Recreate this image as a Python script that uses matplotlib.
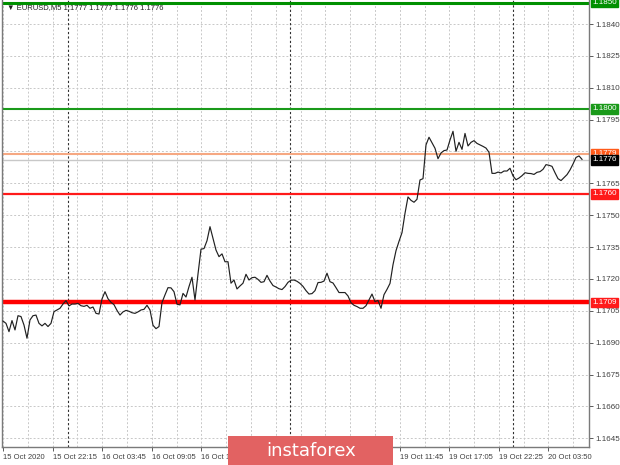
import matplotlib
matplotlib.use('Agg')
import matplotlib.pyplot as plt
import numpy as np
from matplotlib.transforms import blended_transform_factory

# ---- data (EURUSD M5 closes, sampled) ----
close_prices = [
    1.17002, 1.16991, 1.16952, 1.17004, 1.16960, 1.17027, 1.17023, 1.16983, 1.16921, 1.17007,
    1.17027, 1.17030, 1.16991, 1.16979, 1.16991, 1.16976, 1.16991, 1.17046, 1.17054, 1.17062,
    1.17082, 1.17098, 1.17073, 1.17082, 1.17082, 1.17085, 1.17074, 1.17071, 1.17076, 1.17062,
    1.17068, 1.17038, 1.17035, 1.17106, 1.17140, 1.17107, 1.17090, 1.17079, 1.17052, 1.17030,
    1.17045, 1.17052, 1.17048, 1.17041, 1.17038, 1.17045, 1.17054, 1.17057, 1.17076, 1.17054,
    1.16982, 1.16966, 1.16976, 1.17089, 1.17125, 1.17159, 1.17158, 1.17140, 1.17081, 1.17078,
    1.17132, 1.17115, 1.17164, 1.17208, 1.17101, 1.17223, 1.17340, 1.17343, 1.17380, 1.17446,
    1.17391, 1.17336, 1.17305, 1.17318, 1.17281, 1.17281, 1.17180, 1.17195, 1.17153, 1.17167,
    1.17180, 1.17222, 1.17195, 1.17206, 1.17208, 1.17198, 1.17184, 1.17187, 1.17217, 1.17190,
    1.17169, 1.17162, 1.17154, 1.17150, 1.17164, 1.17184, 1.17194, 1.17195, 1.17189,
    1.17179, 1.17165, 1.17145, 1.17129, 1.17131, 1.17145, 1.17183, 1.17184, 1.17190, 1.17227,
    1.17187, 1.17181, 1.17159, 1.17136, 1.17136, 1.17136, 1.17120, 1.17088, 1.17076, 1.17070,
    1.17062, 1.17062, 1.17074, 1.17101, 1.17129, 1.17093, 1.17099, 1.17062, 1.17126, 1.17151,
    1.17179, 1.17267, 1.17333, 1.17377, 1.17418, 1.17509, 1.17586, 1.17570, 1.17561, 1.17575,
    1.17666, 1.17672, 1.17831, 1.17867, 1.17841, 1.17815, 1.17766, 1.17793, 1.17804, 1.17807,
    1.17854, 1.17895, 1.17801, 1.17843, 1.17810, 1.17885, 1.17826, 1.17843, 1.17851, 1.17838,
    1.17831, 1.17824, 1.17816, 1.17796, 1.17697, 1.17697, 1.17703, 1.17699, 1.17708, 1.17708,
    1.17721, 1.17685, 1.17667, 1.17675, 1.17686, 1.17700, 1.17697, 1.17696, 1.17692, 1.17702,
    1.17705, 1.17716, 1.17738, 1.17735, 1.17730, 1.17700, 1.17672, 1.17663, 1.17677, 1.17691,
    1.17713, 1.17741, 1.17772, 1.17779, 1.17763,
]

# labels 6-8 are hidden behind the watermark in the reference
time_labels = ['15 Oct 2020', '15 Oct 22:15', '16 Oct 03:45', '16 Oct 09:05',
               '16 Oct 14:25', '', '', '',
               '19 Oct 11:45', '19 Oct 17:05', '19 Oct 22:25', '20 Oct 03:50']

price_ticks = [1.1645, 1.1660, 1.1675, 1.1690, 1.1705, 1.1720, 1.1735,
               1.1750, 1.1765, 1.1795, 1.1810, 1.1825, 1.1840]

level_prices = [1.1850, 1.1800, 1.1779, 1.1776, 1.1760, 1.1709]
level_labels = ['1.1850', '1.1800', '1.1779', '1.1776', '1.1760', '1.1709']

title_text = '\u25bc EURUSD,M5 1.1777 1.1777 1.1776 1.1776'

# ---- styles ----
level_colors = ['#009000', '#1a9a1a', '#f6a882', '#c8c8c8', '#ff1a1a', '#ff0000']
level_widths = [2.2, 1.5, 1.5, 1.0, 1.6, 3.2]
box_colors = ['#009000', '#1a9a1a', '#ff5a1a', '#000000', '#ff1a1a', '#ff1a1a']

plt.rcParams['font.family'] = ['Liberation Sans', 'DejaVu Sans']

fig = plt.figure(figsize=(6.2, 4.65), dpi=100)
ax = fig.add_axes([2 / 620, 18 / 465, 587 / 620, 447 / 465])

x = np.arange(len(close_prices))
label_step = 16.53           # index units between time labels
x_start = 0.0

ax.set_xlim(-0.33, 195.33)
ax.set_ylim(1.16409, 1.18513)

# grid
for k in range(0, 24):
    ax.axvline(x_start + k * label_step / 2, color='#c8c8c8', lw=0.7,
               ls=(0, (2, 2)), zorder=0)
for p in price_ticks + [1.1780]:
    ax.axhline(p, color='#c8c8c8', lw=0.7, ls=(0, (2, 2)), zorder=0)

# day separators
for d in [1.31, 5.79, 10.28]:
    ax.axvline(x_start + d * label_step, color='#303030', lw=0.8,
               ls=(0, (2, 2)), zorder=1)

# level lines
for p, c, w in zip(level_prices, level_colors, level_widths):
    ax.axhline(p, color=c, lw=w, zorder=2)

# price line
ax.plot(x, close_prices, color='#202020', lw=0.85, zorder=3)

# axes styling
for s in ['left', 'bottom', 'right']:
    ax.spines[s].set_color('#7a7a7a')
    ax.spines[s].set_linewidth(1.0)
ax.spines['top'].set_visible(False)

ax.yaxis.tick_right()
ax.set_yticks(price_ticks)
ax.set_yticklabels(['%.4f' % p for p in price_ticks])
ax.tick_params(axis='y', direction='out', length=3, width=0.6, colors='#404040',
               labelsize=5.8, pad=1.5)

ax.set_xticks([x_start + k * label_step for k in range(len(time_labels))])
ax.set_xticklabels(time_labels)
ax.tick_params(axis='x', direction='out', length=3, width=0.6, colors='#404040',
               labelsize=5.5, pad=2)
for lbl in ax.get_xticklabels():
    lbl.set_horizontalalignment('left')

# level label boxes
trans = blended_transform_factory(ax.transAxes, ax.transData)
for p, t, c in zip(level_prices, level_labels, box_colors):
    ax.text(1.006, p, t, transform=trans, fontsize=5.8, color='white',
            ha='left', va='center', zorder=10, clip_on=False,
            bbox=dict(boxstyle='square,pad=0.15', fc=c, ec=c))

# title
ax.text(0.008, 0.992, title_text, transform=ax.transAxes, fontsize=5.5,
        color='#202020', ha='left', va='top', zorder=10)

# watermark
fig.patches.append(plt.Rectangle((228 / 620, 0), 165 / 620, 29 / 465,
                                 transform=fig.transFigure, fc='#e26262',
                                 ec='none', zorder=20))
fig.text(311 / 620, 14 / 465, 'instaforex', fontsize=13, color='white',
         family='DejaVu Sans', ha='center', va='center', zorder=21)

fig.savefig('out.png', dpi=100)
